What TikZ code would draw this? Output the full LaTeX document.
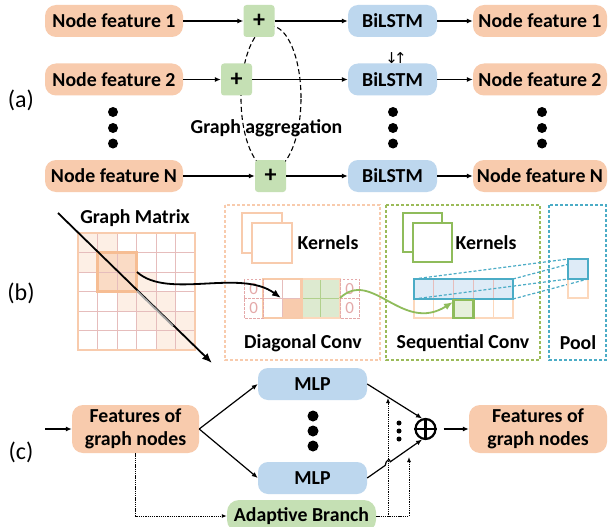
\documentclass[tikz,border=0pt]{standalone}
\usepackage{fontspec}
\setmainfont{Carlito}
\newfontfamily\symfont{DejaVu Sans}
\usetikzlibrary{arrows.meta,calc}
\definecolor{peach}{HTML}{F8CBAD}
\definecolor{lblue}{HTML}{BDD7EE}
\definecolor{lgreen}{HTML}{C5E0B4}
\definecolor{kgreen}{HTML}{8FBC5B}
\definecolor{dgreen}{HTML}{9BBB59}
\definecolor{cyanb}{HTML}{4BACC6}
\definecolor{lcyan}{HTML}{DEEBF7}
\definecolor{gridpink}{HTML}{E6BDBC}
\definecolor{bandc}{HTML}{FDEFE5}
\definecolor{blockfill}{HTML}{FADBC5}
\definecolor{blockedge}{HTML}{F6BD93}
\definecolor{zeropink}{HTML}{E4A9A9}
\definecolor{greencell}{HTML}{DDEAD0}
\definecolor{lgreencell}{HTML}{E6F0DC}
\definecolor{lorange}{HTML}{FCD8BC}
\newcommand\mybf{\bfseries\fontsize{19.8}{23.3}\selectfont}
\begin{document}
\begin{tikzpicture}[x=1pt,y=-1pt,
  txt/.style={inner sep=0pt,font=\mybf,align=center},
  fbox/.style={txt,fill=peach,rounded corners=11pt,minimum height=32pt},
  pbox/.style={inner sep=0pt,font=\bfseries\fontsize{24}{24}\selectfont,fill=lgreen,rounded corners=3pt,minimum width=31pt,minimum height=32pt},
  bbox/.style={txt,fill=lblue,rounded corners=10pt,minimum height=32pt},
  gbox/.style={txt,fill=lgreen,rounded corners=12pt,minimum height=32pt},
  lab/.style={inner sep=0pt,font=\fontsize{24}{24}\selectfont},
  arr/.style={-{Latex[length=6pt,width=5pt]},line width=1.2pt},
  dotarr/.style={-{Latex[length=5pt,width=4pt]},line width=1pt,dash pattern=on 1.3pt off 0.9pt},
  dot/.style={circle,fill=black,inner sep=0pt,minimum size=10pt},
  zero/.style={inner sep=0pt,text=zeropink,font=\fontsize{17}{17}\selectfont}
]
\useasboundingbox (0,0) rectangle (608,527);
\fill[white] (0,0) rectangle (608,527);

% ---------------- (a)
\node[lab] (la) at (21,100) {(a)};
\draw[line width=1.1pt,dash pattern=on 5pt off 3pt] (271,98) ellipse [x radius=30pt,y radius=72pt];
\node[txt] (gagg) at (266.5,128) {Graph aggregation};

\node[fbox,minimum width=138pt] (nf1) at (114,21) {Node feature 1};
\node[fbox,minimum width=138pt] (nf2) at (114,79.5) {Node feature 2};
\node[fbox,minimum width=138pt] (nfN) at (114,176) {Node feature N};
\node[pbox] (p1) at (259,21) {+};
\node[pbox] (p2) at (236.5,79.5) {+};
\node[pbox] (pN) at (270.5,176) {+};
\node[bbox,minimum width=89pt] (b1) at (392.5,21) {BiLSTM};
\node[bbox,minimum width=89pt] (b2) at (392.5,79.5) {BiLSTM};
\node[bbox,minimum width=89pt] (bN) at (392.5,176) {BiLSTM};
\node[fbox,minimum width=134pt] (o1) at (540,21) {Node feature 1};
\node[fbox,minimum width=134pt] (o2) at (540,79.5) {Node feature 2};
\node[fbox,minimum width=134pt] (oN) at (540,176) {Node feature N};
\node[inner sep=0pt,font=\symfont\fontsize{15}{15}\selectfont] (ud) at (396,58) {↓\kern-4pt↑};
\foreach \n in {1,2,N}{
  \draw[arr] (nf\n) -- (p\n);
  \draw[arr] (p\n) -- (b\n);
  \draw[arr] (b\n) -- (o\n);
}
\foreach \x/\nm in {113/l,393/m,542/r}{
  \node[dot] (da\nm1) at (\x,112) {};
  \node[dot] (da\nm2) at (\x,128) {};
  \node[dot] (da\nm3) at (\x,143.5) {};
}

% ---------------- (b)
\node[lab] (lb) at (21,293) {(b)};
\node[txt] (gm) at (135,218) {Graph Matrix};
% graph matrix
\foreach \r in {0,...,5}{
  \foreach \c in {0,...,5}{
    \pgfmathtruncatemacro\dd{abs(\r-\c)}
    \ifnum\dd<2 \fill[bandc] (78+\c*19.5,233+\r*19.5) rectangle ++(19.5,19.5);\fi
  }
}
\fill[blockfill] (97.5,252.5) rectangle (136.5,291.5);
\foreach \i in {1,...,5}{
  \draw[gridpink,line width=0.8pt] (78+\i*19.5,233) -- ++(0,117);
  \draw[gridpink,line width=0.8pt] (78,233+\i*19.5) -- ++(117,0);
}
\draw[peach,line width=2pt] (78,233) rectangle (195,350);
\draw[blockedge,line width=2.5pt] (97.5,252.5) rectangle (136.5,291.5);

% dashed frames
\draw[peach,line width=1.2pt,dash pattern=on 3pt off 2pt] (225,205) rectangle (380,360);
\draw[dgreen,line width=1.2pt,dash pattern=on 3pt off 2pt] (386,205) rectangle (540,360);
\draw[cyanb,line width=1.2pt,dash pattern=on 3pt off 2pt] (549,205) rectangle (606,360);

% orange kernels
\draw[peach,line width=2pt,fill=white] (242,213) rectangle (282,253);
\draw[peach,line width=2pt,fill=white] (252,223) rectangle (292,263);
\node[txt] (k1) at (328,243) {Kernels};
% diagonal conv grid
\fill[peach] (282.25,298.5) rectangle (301.5,318);
\fill[greencell] (301.5,279) rectangle (340,318);
\draw[gridpink,line width=0.8pt] (282.25,279) -- (282.25,318) (263,298.5) -- (301.5,298.5);
\draw[kgreen!70,line width=0.8pt] (320.75,279) -- (320.75,318) (301.5,298.5) -- (340,298.5);
\draw[lorange,line width=1.5pt] (263,279) rectangle (340,318);
\draw[blockedge!80,line width=2.5pt] (263,279) rectangle (301.5,318);
\foreach \x in {244,340}{
  \draw[zeropink,line width=1pt,dash pattern=on 2.5pt off 1.5pt] (\x,279) rectangle ++(19.5,39) (\x,298.5) -- ++(19.5,0);
}
\node[zero] (z1) at (253.75,288.75) {0};
\node[zero] (z2) at (253.75,308.25) {0};
\node[zero] (z3) at (349.75,288.75) {0};
\node[zero] (z4) at (349.75,308.25) {0};
\node[txt] (dc) at (303,343) {Diagonal Conv};

% green kernels
\draw[kgreen,line width=2.5pt,fill=white] (403,213) rectangle (442,252);
\draw[kgreen,line width=2.5pt,fill=white] (413,223) rectangle (452,262);
\node[txt] (k2) at (486,243) {Kernels};
% sequential conv grid
\fill[lcyan] (414,279) rectangle (513,299);
\foreach \i in {0,...,4}{
  \draw[lorange,line width=1.2pt] (414+\i*19.8,299) rectangle ++(19.8,19);
}
\foreach \i in {1,...,4}{
  \draw[gridpink,line width=0.8pt] (414+\i*19.8,279) -- ++(0,20);
}
\draw[cyanb,line width=2.5pt] (414,279) rectangle (513,299);
\draw[kgreen,line width=2.5pt,fill=lgreencell] (453.6,300) rectangle (473.4,318);
\node[txt] (sc) at (463,343) {Sequential Conv};
% pool
\draw[cyanb,line width=1.2pt,dash pattern=on 3pt off 2pt] (414,279) -- (568,259) (513,279) -- (588,259) (414,299) -- (568,279) (513,299) -- (588,279);
\draw[lorange,line width=1.2pt] (568,279) rectangle (588,298);
\draw[cyanb,line width=2.5pt,fill=lcyan] (568,259) rectangle (588,279);
\node[txt] (pl) at (578,343) {Pool};

% arrows of (b)
\coordinate (ds) at (58,213);
\coordinate (de) at (212,363);
\draw[-{Latex[length=10pt,width=8pt]},line width=1.8pt] (ds) -- (de);
\draw[gray!70,line width=1.8pt] (137,291) -- (173,326);
\coordinate (cs) at (137,272);
\coordinate (ce) at (281,298);
\draw[-{Latex[length=9pt,width=7pt]},line width=1.8pt] (cs) .. controls (168,300) and (240,268) .. (ce);
\coordinate (gs) at (340,298);
\coordinate (ge) at (453,302);
\draw[kgreen,-{Latex[length=9pt,width=7pt]},line width=1.8pt] (gs) .. controls (372,268) and (402,334) .. (ge);

% ---------------- (c)
\node[lab] (lc) at (21,452) {(c)};
\node[fbox,minimum width=127pt,minimum height=48pt] (fin) at (135.5,429) {Features of\\graph nodes};
\node[fbox,minimum width=138pt,minimum height=48pt] (fout) at (538,429) {Features of\\graph nodes};
\node[bbox,minimum width=109pt] (m1) at (312.5,384) {MLP};
\node[bbox,minimum width=109pt] (m2) at (312.5,478) {MLP};
\node[gbox,minimum width=149pt] (ab) at (301.5,516) {Adaptive Branch};
\node[circle,draw,line width=2.2pt,minimum size=20pt,inner sep=0pt] (sum) at (425.5,429) {};
\draw[line width=2.5pt] (sum.north) -- (sum.south) (sum.west) -- (sum.east);
\foreach \y/\k in {416/1,431/2,446/3}{ \node[dot,minimum size=11pt] (dc\k) at (313,\y) {}; }
\foreach \y/\k in {423/1,431/2,439/3}{ \node[circle,fill=black,inner sep=0pt,minimum size=5pt] (sd\k) at (399,\y) {}; }

\coordinate (cin) at (45,429);
\draw[arr] (cin) -- (fin.west);
\draw[arr] (fin.east) -- (m1.west);
\draw[arr] (fin.east) -- (m2.west);
\draw[dotarr] (fin.south) |- (ab.west);
\coordinate (t1) at (388,398);
\coordinate (t2) at (409,457);
\draw[dotarr] (ab.east) -| (t1);
\draw[dotarr] (ab.east) -| (t2);
\draw[arr] (m1.east) -- (sum.108);
\draw[arr] (m2.east) -- ($(m2.east)!0.33!(sum.252)$) .. controls +(0,-4.5) and +(0,-4.5) .. ($(m2.east)!0.42!(sum.252)$) -- (sum.252);
\draw[arr,shorten <=7pt] (sum.east) -- (fout.west);
\end{tikzpicture}
\end{document}
